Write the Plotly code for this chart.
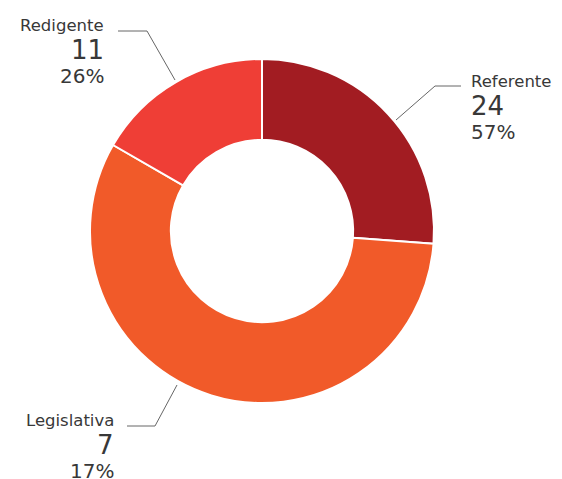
import plotly.graph_objects as go

W, H = 562, 479
OFF = 8  # page body margin around the plot div

# slices clockwise from 12 o'clock
slice_values = [11, 24, 7]
slice_colors = ["#A21C22", "#F15A29", "#EF3E36"]

# labels as printed on the chart
label_names = ["Referente", "Legislativa", "Redigente"]
label_counts = [24, 7, 11]
label_pcts = [57, 17, 26]


def px(x):
    return (x - OFF) / W


def py(y):
    return 1 - (y - OFF) / H


fig = go.Figure(go.Pie(
    values=slice_values,
    marker=dict(colors=slice_colors, line=dict(color="white", width=2)),
    sort=False,
    direction="clockwise",
    rotation=0,
    hole=0.53,
    textinfo="none",
    hoverinfo="value+percent",
    showlegend=False,
    domain=dict(x=[px(262 - 172), px(262 + 172)], y=[py(231 + 172), py(231 - 172)]),
))

# label blocks: (anchor x, name y, align)
label_pos = [(469, 81, "left"), (116, 420, "right"), (106, 25, "right")]
text_col = "#383838"
font_fam = "DejaVu Sans, sans-serif"

annotations = []
for name, cnt, pct, (x, y, al) in zip(label_names, label_counts, label_pcts, label_pos):
    for txt, dy, size in [(name, 0, 16.5), (str(cnt), 25, 26), (f"{pct}%", 51, 20)]:
        annotations.append(dict(
            x=px(x), y=py(y + dy), xref="paper", yref="paper",
            text=txt, showarrow=False, xanchor=al, yanchor="middle",
            font=dict(family=font_fam, size=size, color=text_col),
        ))

# leader lines
leaders = [
    [(396, 120), (435, 86), (461, 86)],
    [(177, 385), (155, 426), (127, 426)],
    [(175, 80), (147, 31), (118, 31)],
]
shapes = []
for pts in leaders:
    path = "M " + " L ".join(f"{px(a)},{py(b)}" for a, b in pts)
    shapes.append(dict(type="path", path=path, xref="paper", yref="paper",
                       line=dict(color="#666666", width=1)))

fig.update_layout(
    width=W, height=H,
    margin=dict(l=0, r=0, t=0, b=0),
    paper_bgcolor="white",
    plot_bgcolor="white",
    annotations=annotations,
    shapes=shapes,
)

fig.write_html("out.html")
